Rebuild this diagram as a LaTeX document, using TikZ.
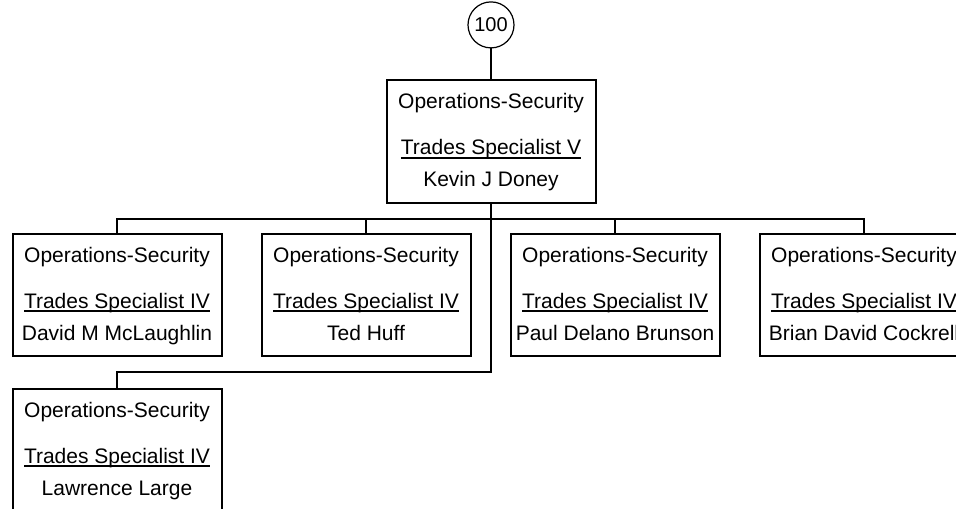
\documentclass[tikz,border=0pt]{standalone}
\usepackage{fontspec}
\setmainfont{Liberation Sans}
\usetikzlibrary{positioning}
\newsavebox\ttlbox
\newcommand{\ttl}[1]{\sbox\ttlbox{#1}\rlap{\rule[-1.8pt]{\wd\ttlbox}{0.9pt}}\usebox\ttlbox}

\begin{document}
\begin{tikzpicture}[
  x=0.5pt, y=-0.5pt,
  node distance=15.5pt and 19pt,
  unit/.style={draw, line width=1pt, minimum width=104.5pt, minimum height=61pt, inner sep=2pt, align=center, font=\fontsize{10.5}{16}\selectfont},
  num/.style={draw, circle, line width=0.6pt, minimum size=23pt, inner sep=0pt, font=\fontsize{10}{12}\selectfont},
  link/.style={line width=1pt}
]
\path[use as bounding box, clip] (0,0) rectangle (956,508);
\node[unit] (head) at (491,141.5) {\strut Operations-Security\\[7pt]\ttl{Trades Specialist V}\\\strut Kevin J Doney};
\node[num, above=of head] (pos) {100};
\node[unit] (mclaughlin) at (117,295) {\strut Operations-Security\\[7pt]\ttl{Trades Specialist IV}\\\strut David M McLaughlin};
\node[unit, right=of mclaughlin] (huff) {\strut Operations-Security\\[7pt]\ttl{Trades Specialist IV}\\\strut Ted Huff};
\node[unit, right=of huff] (brunson) {\strut Operations-Security\\[7pt]\ttl{Trades Specialist IV}\\\strut Paul Delano Brunson};
\node[unit, right=of brunson] (cockrell) {\strut Operations-Security\\[7pt]\ttl{Trades Specialist IV}\\\strut Brian David Cockrell};
\node[unit, below=of mclaughlin] (large) {\strut Operations-Security\\[7pt]\ttl{Trades Specialist IV}\\\strut Lawrence Large};

\coordinate (bus) at (491,219);
\coordinate (bus2) at (491,372);
\draw[link] (pos) -- (head);
\draw[link] (head) -- (bus);
\draw[link] (mclaughlin.north) |- (bus) -| (cockrell.north);
\draw[link] (huff.north) -- (huff.north |- bus);
\draw[link] (brunson.north) -- (brunson.north |- bus);
\draw[link] (bus) -- (bus2) -| (large.north);
\end{tikzpicture}
\end{document}
